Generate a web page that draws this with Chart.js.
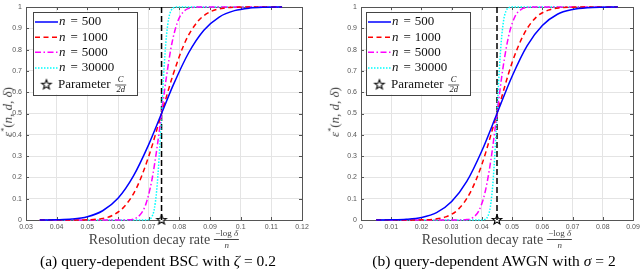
<!DOCTYPE html>
<html>
<head>
<meta charset="utf-8">
<script src="https://cdn.jsdelivr.net/npm/chart.js@4.4.1/dist/chart.umd.min.js"></script>
<style>
  html, body { margin: 0; padding: 0; background: #fff; }
  #wrap { position: relative; width: 640px; height: 272px; overflow: hidden; font-family: "Liberation Serif", "DejaVu Serif", serif; }
  .panel { position: absolute; top: 0; width: 320px; height: 272px; }
  .xtitle { position: absolute; top: 229px; transform: translateX(-50%); white-space: nowrap; font-size: 14px; color: #444; display: flex; align-items: center; }
  .frac { display: inline-flex; flex-direction: column; align-items: center; font-size: 9px; margin-left: 4px; line-height: 1; }
  .frac .num { border-bottom: 0.8px solid #444; padding: 0 1px 1px; }
  .frac .den { padding-top: 1px; font-style: italic; }
  .ytitle { position: absolute; top: 112px; transform: translate(-50%, -50%) rotate(-90deg); white-space: nowrap; font-size: 13px; color: #444; }
  .caption { position: absolute; top: 252px; transform: translateX(-50%); white-space: nowrap; font-size: 15.5px; color: #000; }
  i { font-style: italic; }
</style>
</head>
<body>
<div id="wrap">
  <div class="panel" style="left:0"><canvas id="bsc" width="320" height="272"></canvas></div>
  <div class="panel" style="left:320px"><canvas id="awgn" width="320" height="272"></canvas></div>

  <div class="ytitle" style="left:8px"><i>ε</i><sup style="font-size:8px">*</sup>(<i>n</i>, <i>d</i>, <i>δ</i>)</div>
  <div class="ytitle" style="left:335px"><i>ε</i><sup style="font-size:8px">*</sup>(<i>n</i>, <i>d</i>, <i>δ</i>)</div>

  <div class="xtitle" style="left:164px">Resolution decay rate <span class="frac"><span class="num">−log <i>δ</i></span><span class="den">n</span></span></div>
  <div class="xtitle" style="left:497px">Resolution decay rate <span class="frac"><span class="num">−log <i>δ</i></span><span class="den">n</span></span></div>

  <div class="caption" style="left:158px">(a) query-dependent BSC with <i>ζ</i> = 0.2</div>
  <div class="caption" style="left:494px">(b) query-dependent AWGN with <i>σ</i> = 2</div>
</div>
<script>
// tick labels
const yTicks = [0, 0.1, 0.2, 0.3, 0.4, 0.5, 0.6, 0.7, 0.8, 0.9, 1];
const bscTicks = [0.03, 0.04, 0.05, 0.06, 0.07, 0.08, 0.09, 0.1, 0.11, 0.12];
const awgnTicks = [0, 0.01, 0.02, 0.03, 0.04, 0.05, 0.06, 0.07, 0.08, 0.09];

// series names
const blockLengths = ["500", "1000", "5000", "30000"];

// (a) BSC, zeta = 0.2 : [rate, epsilon]
const bscThreshold = 0.0742;
const bsc500 = [[0.0345, 0.0002], [0.04, 0.0011], [0.045, 0.0043], [0.05, 0.0154], [0.055, 0.0434], [0.06, 0.102],
  [0.065, 0.206], [0.07, 0.354], [0.0742, 0.5], [0.078, 0.633], [0.083, 0.784], [0.088, 0.891], [0.093, 0.953],
  [0.098, 0.983], [0.103, 0.995], [0.108, 0.9987], [0.1135, 0.9998]];
const bsc1000 = [[0.0345, 0], [0.045, 0.0001], [0.05, 0.0011], [0.054, 0.0052], [0.058, 0.02], [0.062, 0.062],
  [0.066, 0.149], [0.07, 0.298], [0.0742, 0.5], [0.078, 0.684], [0.082, 0.839], [0.086, 0.932], [0.09, 0.977],
  [0.095, 0.9957], [0.1, 0.9995], [0.1135, 1]];
const bsc5000 = [[0.0345, 0], [0.06, 0], [0.063, 0.0006], [0.065, 0.0039], [0.067, 0.021], [0.069, 0.071],
  [0.071, 0.184], [0.0727, 0.337], [0.0742, 0.5], [0.0757, 0.663], [0.0775, 0.824], [0.0795, 0.933],
  [0.0815, 0.98], [0.0835, 0.9957], [0.086, 0.9996], [0.1135, 1]];
const bsc30000 = [[0.0345, 0], [0.069, 0.0002], [0.07, 0.0019], [0.071, 0.014], [0.0718, 0.049], [0.0726, 0.136],
  [0.0734, 0.291], [0.0742, 0.5], [0.075, 0.709], [0.0758, 0.864], [0.0766, 0.951], [0.0774, 0.986],
  [0.0784, 0.9981], [0.0795, 0.9999], [0.1135, 1]];

// (b) AWGN, sigma = 2
const awgnThreshold = 0.045;
const awgn500 = [[0.005, 0.0001], [0.01, 0.0007], [0.015, 0.0032], [0.02, 0.0116], [0.025, 0.0344], [0.03, 0.0869],
  [0.035, 0.181], [0.04, 0.325], [0.045, 0.5], [0.05, 0.675], [0.055, 0.819], [0.06, 0.913], [0.065, 0.966],
  [0.07, 0.988], [0.075, 0.9968], [0.08, 0.9993], [0.085, 0.9999]];
const awgn1000 = [[0.005, 0], [0.015, 0.0001], [0.02, 0.0007], [0.024, 0.0036], [0.028, 0.0146], [0.032, 0.0475],
  [0.036, 0.125], [0.04, 0.261], [0.045, 0.5], [0.05, 0.739], [0.054, 0.875], [0.058, 0.9525], [0.062, 0.9854],
  [0.066, 0.9964], [0.07, 0.9993], [0.075, 0.9999], [0.085, 1]];
const awgn5000 = [[0.005, 0], [0.032, 0.0001], [0.035, 0.0021], [0.037, 0.011], [0.039, 0.0436], [0.041, 0.127],
  [0.043, 0.284], [0.045, 0.5], [0.047, 0.716], [0.049, 0.873], [0.051, 0.9564], [0.053, 0.989],
  [0.055, 0.9979], [0.058, 0.9999], [0.085, 1]];
const awgn30000 = [[0.005, 0], [0.04, 0.0002], [0.041, 0.0026], [0.042, 0.018], [0.0428, 0.062], [0.0436, 0.164],
  [0.0443, 0.312], [0.045, 0.5], [0.0457, 0.688], [0.0464, 0.836], [0.0472, 0.938], [0.048, 0.982],
  [0.049, 0.9974], [0.05, 0.9998], [0.085, 1]];

const curveStyles = [
  { color: "#0000ff", dash: [] },
  { color: "#ff0000", dash: [5, 3.5] },
  { color: "#ff00ff", dash: [6, 2.5, 1.5, 2.5] },
  { color: "#00ffff", dash: [1.5, 1.5] },
];

const SERIF = '"Liberation Serif", "DejaVu Serif", serif';
const TICK_FONT = { family: '"Liberation Sans", Arial, sans-serif', size: 7 };

function makeStar(r) {
  const size = Math.ceil(r * 2 + 4);
  const c = document.createElement("canvas");
  c.width = c.height = size;
  const g = c.getContext("2d");
  g.beginPath();
  for (let i = 0; i < 10; i++) {
    const rr = i % 2 ? r * 0.42 : r;
    const a = -Math.PI / 2 + (i * Math.PI) / 5;
    g.lineTo(size / 2 + rr * Math.cos(a), size / 2 + rr * Math.sin(a));
  }
  g.closePath();
  g.fillStyle = "#fff";
  g.fill();
  g.lineWidth = 1.1;
  g.strokeStyle = "#000";
  g.stroke();
  return c;
}
const starImg = makeStar(5);

// box + inward ticks, drawn under the curves like matlab does
const framePlugin = {
  id: "frame",
  beforeDatasetsDraw(chart) {
    const { ctx, chartArea: a, scales } = chart;
    ctx.save();
    ctx.strokeStyle = "#555";
    ctx.lineWidth = 1;
    ctx.strokeRect(Math.round(a.left) + 0.5, Math.round(a.top) + 0.5,
      Math.round(a.right - a.left), Math.round(a.bottom - a.top));
    ctx.beginPath();
    scales.x.ticks.forEach((t) => {
      const px = Math.round(scales.x.getPixelForValue(t.value)) + 0.5;
      ctx.moveTo(px, a.bottom); ctx.lineTo(px, a.bottom - 3);
      ctx.moveTo(px, a.top); ctx.lineTo(px, a.top + 3);
    });
    scales.y.ticks.forEach((t) => {
      const py = Math.round(scales.y.getPixelForValue(t.value)) + 0.5;
      ctx.moveTo(a.left, py); ctx.lineTo(a.left + 3, py);
      ctx.moveTo(a.right, py); ctx.lineTo(a.right - 3, py);
    });
    ctx.stroke();
    ctx.restore();
  },
};

const legendPlugin = {
  id: "mathLegend",
  afterDatasetsDraw(chart, args, opts) {
    const { ctx, chartArea: a } = chart;
    const x0 = a.left + opts.dx;
    const y0 = a.top + 4.5;
    const w = 104, h = 83;
    ctx.save();
    ctx.fillStyle = "#fff";
    ctx.fillRect(x0, y0, w, h);
    ctx.strokeStyle = "#444";
    ctx.lineWidth = 1;
    ctx.strokeRect(Math.round(x0) + 0.5, Math.round(y0) + 0.5, w, h);

    const rows = [10.5, 25.8, 40.8, 56.5];
    ctx.textBaseline = "middle";
    blockLengths.forEach((n, i) => {
      const ry = y0 + rows[i];
      ctx.beginPath();
      ctx.setLineDash(curveStyles[i].dash);
      ctx.strokeStyle = curveStyles[i].color;
      ctx.lineWidth = 1.5;
      ctx.moveTo(x0 + 2, ry);
      ctx.lineTo(x0 + 25, ry);
      ctx.stroke();
      ctx.setLineDash([]);
      let tx = x0 + 26;
      ctx.fillStyle = "#111";
      ctx.font = "italic 13px " + SERIF;
      ctx.fillText("n", tx, ry);
      tx += ctx.measureText("n").width + 5;
      ctx.font = "13px " + SERIF;
      ctx.fillText("=", tx, ry);
      tx += ctx.measureText("=").width + 4;
      ctx.fillText(n, tx, ry);
    });

    const sy = y0 + 73.2;
    ctx.drawImage(starImg, x0 + 13.4 - starImg.width / 2, sy - starImg.height / 2);
    ctx.fillStyle = "#111";
    ctx.font = "13px " + SERIF;
    ctx.fillText("Parameter", x0 + 25, sy);
    const fx = x0 + 25 + ctx.measureText("Parameter").width + 10;
    ctx.textAlign = "center";
    ctx.font = "italic 8.5px " + SERIF;
    ctx.fillText("C", fx, sy - 4.8);
    ctx.fillText("2d", fx, sy + 5.2);
    ctx.beginPath();
    ctx.strokeStyle = "#111";
    ctx.lineWidth = 0.7;
    ctx.moveTo(fx - 5.5, sy + 0.3);
    ctx.lineTo(fx + 5.5, sy + 0.3);
    ctx.stroke();
    ctx.restore();
  },
};

function fixed(w, h) {
  return (s) => {
    if (w != null) s.width = w;
    if (h != null) s.height = h;
    s.paddingLeft = s.paddingRight = s.paddingTop = s.paddingBottom = 0;
  };
}

function makePanel(id, xTicks, curves, threshold, yAxisWidth, padRight, legendDx) {
  const datasets = curves.map((pts, i) => ({
    label: "n = " + blockLengths[i],
    data: pts.map(([x, y]) => ({ x, y })),
    showLine: true,
    borderColor: curveStyles[i].color,
    borderDash: curveStyles[i].dash,
    borderWidth: 1.5,
    pointRadius: 0,
    cubicInterpolationMode: "monotone",
    clip: 2,
  }));
  datasets.push({
    label: "threshold",
    data: [{ x: threshold, y: 0 }, { x: threshold, y: 1 }],
    showLine: true,
    borderColor: "#000",
    borderDash: [6, 3],
    borderWidth: 1.5,
    pointRadius: 0,
  });
  datasets.push({
    label: "Parameter C/2d",
    data: [{ x: threshold, y: 0 }],
    showLine: false,
    pointStyle: starImg,
    pointRadius: 6,
    clip: false,
  });

  return new Chart(document.getElementById(id), {
    type: "scatter",
    data: { datasets },
    options: {
      responsive: false,
      animation: false,
      layout: { padding: { left: 0, right: padRight, top: 4, bottom: 0 } },
      plugins: {
        legend: { display: false },
        tooltip: { enabled: false },
        mathLegend: { dx: legendDx },
      },
      scales: {
        x: {
          type: "linear",
          min: xTicks[0],
          max: xTicks[xTicks.length - 1],
          afterBuildTicks: (s) => { s.ticks = xTicks.map((v) => ({ value: v })); },
          afterFit: fixed(null, 52),
          ticks: {
            font: TICK_FONT,
            color: "#555",
            padding: 3,
            maxRotation: 0,
            autoSkip: false,
            callback: (v) => String(+v.toFixed(2)),
          },
          grid: { color: "#e4e4e4", drawTicks: false },
          border: { display: false },
        },
        y: {
          min: 0,
          max: 1,
          afterBuildTicks: (s) => { s.ticks = yTicks.map((v) => ({ value: v })); },
          afterFit: fixed(yAxisWidth, null),
          ticks: {
            font: TICK_FONT,
            color: "#555",
            padding: 4,
            autoSkip: false,
            callback: (v) => String(+v.toFixed(1)),
          },
          grid: { color: "#e4e4e4", drawTicks: false },
          border: { display: false },
        },
      },
    },
    plugins: [framePlugin, legendPlugin],
  });
}

makePanel("bsc", bscTicks, [bsc500, bsc1000, bsc5000, bsc30000], bscThreshold, 26, 18, 7);
makePanel("awgn", awgnTicks, [awgn500, awgn1000, awgn5000, awgn30000], awgnThreshold, 41, 5, 5);
</script>
</body>
</html>
